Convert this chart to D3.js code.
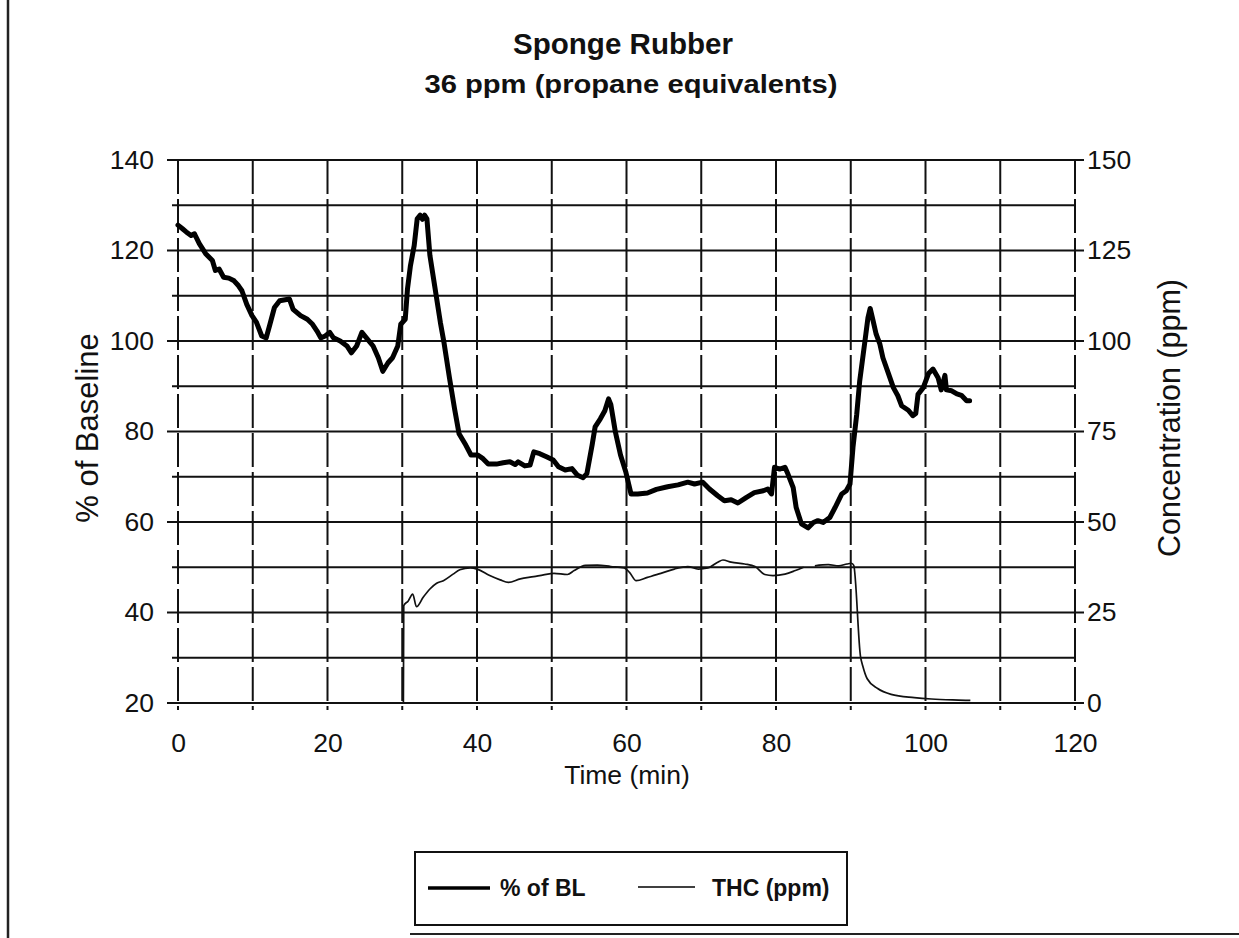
<!DOCTYPE html>
<html>
<head>
<meta charset="utf-8">
<script src="https://cdn.jsdelivr.net/npm/d3@7"></script>
<style>
  html, body { margin: 0; padding: 0; background: #fff; }
  svg text { font-family: "Liberation Sans", Arial, sans-serif; fill: #111; }
</style>
</head>
<body>
<div id="chart"></div>
<script>
// time axis ticks and the two y axes
const xTicks = [0, 20, 40, 60, 80, 100, 120];
const leftTicks = [20, 40, 60, 80, 100, 120, 140];
const rightTicks = [0, 25, 50, 75, 100, 125, 150];

// % of baseline (thick line)
const blTime = [0.0, 0.6, 1.1, 1.75, 2.2, 2.85, 3.7, 4.6, 5.0, 5.5, 6.1, 6.8, 7.5, 8.1, 8.55, 9.2, 9.9, 10.5,
  11.2, 11.8, 12.3, 12.9, 13.6, 14.9, 15.4, 16.4, 17.3, 18.0, 18.6, 19.1, 19.7, 20.3, 20.8, 21.7, 22.6, 23.2,
  23.9, 24.6, 25.2, 26.1, 26.8, 27.4, 28.1, 28.7, 29.4, 29.8, 30.4, 30.7, 31.1, 31.6, 32.0, 32.4, 32.7, 33.0,
  33.3, 33.7, 34.4, 35.1, 35.6, 36.3, 37.0, 37.6, 38.5, 39.2, 40.1, 40.8, 41.5, 42.6, 43.5, 44.4, 45.1, 45.5,
  46.4, 47.1, 47.6, 48.4, 49.3, 50.2, 50.9, 51.8, 52.7, 53.4, 54.2, 54.7, 55.4, 55.8, 56.5, 57.1, 57.6, 57.9,
  58.5, 59.2, 59.9, 60.6, 61.5, 62.8, 64.0, 65.5, 66.9, 68.2, 69.1, 70.2, 71.1, 72.2, 73.1, 74.0, 74.9, 76.0,
  77.1, 78.3, 78.9, 79.4, 79.8, 80.5, 81.2, 81.6, 82.3, 82.7, 83.4, 84.3, 85.0, 85.6, 86.3, 87.2, 87.9, 88.8,
  89.4, 89.9, 90.3, 90.8, 91.2, 91.9, 92.3, 92.6, 93.0, 93.4, 93.9, 94.3, 95.0, 95.7, 96.3, 96.8, 97.7, 98.3,
  98.7, 99.0, 99.7, 100.4, 101.0, 101.7, 102.1, 102.6, 102.8, 103.5, 104.2, 104.8, 105.5, 105.9];
const blPct = [125.6, 124.8, 124.1, 123.3, 123.7, 121.5, 119.3, 117.8, 115.6, 115.9, 114.1, 113.9, 113.3, 112.2,
  111.1, 108.1, 105.6, 104.1, 101.1, 100.7, 103.7, 107.4, 108.9, 109.3, 107.0, 105.6, 104.8, 103.7, 102.2, 100.7,
  101.1, 101.9, 100.7, 100.0, 98.9, 97.4, 98.9, 101.9, 100.7, 98.9, 96.3, 93.3, 95.2, 96.3, 98.9, 103.7, 104.8,
  111.5, 116.7, 121.1, 127.0, 127.8, 126.9, 127.8, 127.0, 118.9, 111.5, 104.1, 99.5, 92.0, 85.0, 79.5, 77.0,
  74.8, 74.8, 74.0, 72.8, 72.8, 73.1, 73.3, 72.7, 73.3, 72.4, 72.6, 75.5, 75.1, 74.4, 73.7, 72.2, 71.5, 71.8,
  70.4, 69.8, 70.7, 77.0, 81.0, 82.8, 84.6, 87.2, 86.0, 80.0, 74.8, 71.1, 66.2, 66.2, 66.4, 67.2, 67.8, 68.2,
  68.8, 68.4, 68.8, 67.3, 65.8, 64.7, 64.9, 64.2, 65.4, 66.5, 66.9, 67.3, 66.2, 72.1, 71.7, 72.1, 70.6, 67.6,
  63.2, 59.6, 58.7, 59.9, 60.3, 59.9, 61.0, 63.2, 66.2, 66.9, 68.4, 76.5, 83.8, 91.2, 100.0, 105.1, 107.2, 104.4,
  101.5, 99.3, 96.3, 93.0, 89.7, 87.9, 85.7, 84.7, 83.5, 84.0, 88.2, 89.7, 92.8, 93.8, 91.8, 89.2, 92.4, 89.2,
  89.0, 88.3, 88.0, 86.8, 86.8];

// THC concentration in ppm (thin line); null marks the break near 84-85 min
const thcTime = [30.15, 30.2, 30.8, 31.4, 31.9, 32.8, 33.7, 34.6, 35.5, 36.8, 37.7, 39.1, 40.0, 41.7, 43.1, 44.2,
  45.8, 47.6, 48.9, 50.3, 52.1, 53.0, 54.5, 56.1, 57.9, 59.7, 60.4, 61.3, 62.8, 64.6, 66.4, 68.2, 69.6, 70.9,
  72.2, 72.9, 74.0, 75.8, 77.2, 78.5, 79.6, 81.2, 82.6, 83.7, 84.5, 85.2, 87.0, 88.4, 89.5, 90.1, 90.4, 91.3,
  91.6, 92.2, 93.6, 95.4, 98.5, 100.8, 104.4, 106.0];
const thcPpm = [0, 26.9, 28.2, 30.1, 26.6, 29.2, 31.5, 33.1, 33.8, 35.6, 36.8, 37.3, 37.0, 35.2, 34.0, 33.3,
  34.3, 34.9, 35.4, 35.8, 35.5, 36.6, 38.0, 38.1, 37.7, 37.3, 36.1, 33.8, 34.7, 35.8, 37.0, 37.7, 37.0, 37.3,
  38.9, 39.5, 38.9, 38.4, 37.7, 35.5, 35.2, 35.6, 36.6, 37.5, null, 37.9, 38.2, 37.9, 38.4, 38.6, 38.0, 12.9,
  10.3, 6.7, 4.0, 2.4, 1.5, 1.1, 0.8, 0.7];

const width = 1239;
const height = 938;

const svg = d3.select('#chart').append('svg')
    .attr('width', width)
    .attr('height', height);

const x = d3.scaleLinear().domain([0, 120]).range([178, 1075]);
const yL = d3.scaleLinear().domain([20, 140]).range([703, 160]);
const yR = d3.scaleLinear().domain([0, 150]).range([703, 160]);

// page frame left over from the scan
svg.append('line').attr('x1', 8).attr('x2', 8).attr('y1', 0).attr('y2', height)
    .attr('stroke', '#222').attr('stroke-width', 2.5);
svg.append('line').attr('x1', 410).attr('x2', width).attr('y1', 934).attr('y2', 934)
    .attr('stroke', '#222').attr('stroke-width', 2);

// horizontal grid, every 10 % of baseline
const grid = svg.append('g');
grid.selectAll('line.h')
    .data(yL.ticks(12))
    .enter()
    .append('line')
    .attr('class', 'h')
    .attr('x1', d => leftTicks.includes(d) ? 167 : 172)
    .attr('x2', d => leftTicks.includes(d) ? 1084 : 1075)
    .attr('y1', d => yL(d))
    .attr('y2', d => yL(d))
    .attr('stroke', '#111')
    .attr('stroke-width', 2);

// vertical grid, dashed, every 10 min
grid.selectAll('line.v')
    .data(x.ticks(12))
    .enter()
    .append('line')
    .attr('class', 'v')
    .attr('x1', d => x(d))
    .attr('x2', d => x(d))
    .attr('y1', 160)
    .attr('y2', 710)
    .attr('stroke', '#111')
    .attr('stroke-width', 2)
    .attr('stroke-dasharray', '34,5');

// axes (labels only, lines come from the grid)
const axisLeft = svg.append('g')
    .attr('transform', 'translate(178,0)')
    .call(d3.axisLeft(yL).tickValues(leftTicks).tickSize(0).tickPadding(24));
const axisRight = svg.append('g')
    .attr('transform', 'translate(1075,0)')
    .call(d3.axisRight(yR).tickValues(rightTicks).tickSize(0).tickPadding(12));
const axisBottom = svg.append('g')
    .attr('transform', 'translate(0,703)')
    .call(d3.axisBottom(x).tickValues(xTicks).tickSize(0).tickPadding(30));

[axisLeft, axisRight, axisBottom].forEach(a => {
    a.select('.domain').remove();
    a.selectAll('text')
        .attr('font-size', '26.5px')
        .attr('fill', '#111')
        .style('font-family', '"Liberation Sans", Arial, sans-serif');
});

// titles
svg.append('text').attr('x', 623).attr('y', 54).attr('text-anchor', 'middle')
    .attr('font-size', '29px').attr('font-weight', 'bold')
    .attr('textLength', 220).attr('lengthAdjust', 'spacingAndGlyphs')
    .text('Sponge Rubber');
svg.append('text').attr('x', 631).attr('y', 93).attr('text-anchor', 'middle')
    .attr('font-size', '25px').attr('font-weight', 'bold')
    .attr('textLength', 413).attr('lengthAdjust', 'spacingAndGlyphs')
    .text('36 ppm (propane equivalents)');
svg.append('text').attr('x', 627).attr('y', 784).attr('text-anchor', 'middle')
    .attr('font-size', '26.5px').text('Time (min)');
svg.append('text').attr('transform', 'translate(98,428) rotate(-90)').attr('text-anchor', 'middle')
    .attr('font-size', '31px').text('% of Baseline');
svg.append('text').attr('transform', 'translate(1180,418) rotate(-90)').attr('text-anchor', 'middle')
    .attr('font-size', '30.5px').text('Concentration (ppm)');

// series
const blData = blTime.map((t, i) => ({t: t, v: blPct[i]}));
const thcData = thcTime.map((t, i) => ({t: t, v: thcPpm[i]}));

svg.append('path')
    .datum(thcData)
    .attr('fill', 'none')
    .attr('stroke', '#111')
    .attr('stroke-width', 1.7)
    .attr('d', d3.line()
        .defined(d => d.v !== null)
        .x(d => x(d.t))
        .y(d => yR(d.v))
        .curve(d3.curveMonotoneX));

svg.append('path')
    .datum(blData)
    .attr('fill', 'none')
    .attr('stroke', '#000')
    .attr('stroke-width', 5)
    .attr('stroke-linejoin', 'round')
    .attr('stroke-linecap', 'round')
    .attr('d', d3.line()
        .x(d => x(d.t))
        .y(d => yL(d.v)));

// legend
const legend = svg.append('g');
legend.append('rect')
    .attr('x', 415).attr('y', 852).attr('width', 432).attr('height', 73)
    .attr('fill', '#fff').attr('stroke', '#111').attr('stroke-width', 2);
legend.append('line').attr('x1', 428).attr('x2', 490).attr('y1', 888).attr('y2', 888)
    .attr('stroke', '#000').attr('stroke-width', 3.5);
legend.append('text').attr('x', 500).attr('y', 896)
    .attr('font-size', '23px').attr('font-weight', 'bold').text('% of BL');
legend.append('line').attr('x1', 638).attr('x2', 695).attr('y1', 887).attr('y2', 887)
    .attr('stroke', '#000').attr('stroke-width', 1.6);
legend.append('text').attr('x', 712).attr('y', 896)
    .attr('font-size', '23px').attr('font-weight', 'bold').text('THC (ppm)');
</script>
</body>
</html>
